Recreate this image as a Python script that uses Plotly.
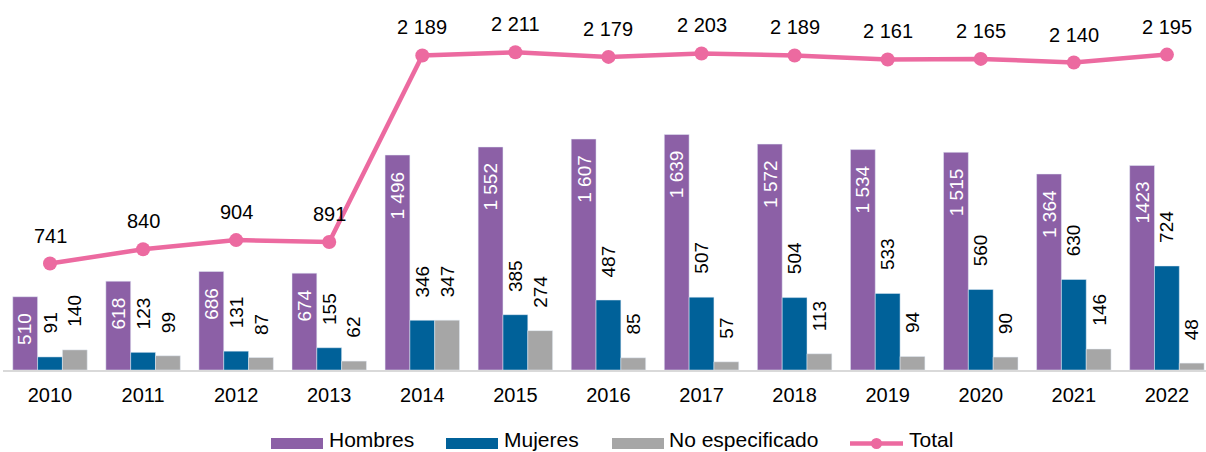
import plotly.graph_objects as go

years = ["2010", "2011", "2012", "2013", "2014", "2015", "2016", "2017", "2018", "2019", "2020", "2021", "2022"]
hombres = [510, 618, 686, 674, 1496, 1552, 1607, 1639, 1572, 1534, 1515, 1364, 1423]
hombres_lbl = ["510", "618", "686", "674", "1 496", "1 552", "1 607", "1 639", "1 572", "1 534", "1 515", "1 364", "1423"]
mujeres = [91, 123, 131, 155, 346, 385, 487, 507, 504, 533, 560, 630, 724]
no_esp = [140, 99, 87, 62, 347, 274, 85, 57, 113, 94, 90, 146, 48]
total = [741, 840, 904, 891, 2189, 2211, 2179, 2203, 2189, 2161, 2165, 2140, 2195]
total_lbl = ["741", "840", "904", "891", "2 189", "2 211", "2 179", "2 203", "2 189", "2 161", "2 165", "2 140", "2 195"]
series_names = ["Hombres", "Mujeres", "No especificado", "Total"]

FONT = "Liberation Sans, Arial, sans-serif"
C_H, C_M, C_N, C_T = "#8C60A6", "#006199", "#A6A6A6", "#EC6AA0"
xi = list(range(len(years)))
BARGAP = 0.2
BW = (1 - BARGAP) / 3  # width of one bar in category units

W, H = 1206, 452
ML, MR, MT, MB = 3, 0, 0, 82
PW, PH = W - ML - MR, H - MT - MB


def px2x(px):
    return (px - ML) / PW


def py2y(py):
    return (MT + PH - py) / PH


fig = go.Figure()
fig.add_trace(go.Bar(x=xi, y=hombres, name=series_names[0], marker_color=C_H))
fig.add_trace(go.Bar(x=xi, y=mujeres, name=series_names[1], marker_color=C_M))
fig.add_trace(go.Bar(x=xi, y=no_esp, name=series_names[2], marker_color=C_N))
fig.add_trace(go.Scatter(
    x=xi, y=total, name=series_names[3], mode="lines+markers",
    line=dict(color=C_T, width=4.5), marker=dict(color=C_T, size=14),
    cliponaxis=False,
))

ann = []
for i in xi:
    ann.append(dict(x=i - BW, y=hombres[i], text=hombres_lbl[i], textangle=-90,
                    xanchor="center", yanchor="top", yshift=-14, showarrow=False,
                    font=dict(color="white", size=19, family=FONT)))
    ann.append(dict(x=i, y=mujeres[i], text=str(mujeres[i]), textangle=-90,
                    xanchor="center", yanchor="bottom", yshift=21, showarrow=False,
                    font=dict(color="black", size=19, family=FONT)))
    ann.append(dict(x=i + BW, y=no_esp[i], text=str(no_esp[i]), textangle=-90,
                    xanchor="center", yanchor="bottom", yshift=21, showarrow=False,
                    font=dict(color="black", size=19, family=FONT)))
    ann.append(dict(x=i, y=total[i], text=total_lbl[i],
                    xanchor="center", yanchor="middle", yshift=28, showarrow=False,
                    font=dict(color="black", size=20, family=FONT)))

# custom legend (wide swatches like the original)
shapes = []
LEG_Y = 443.5
swatch_x = [271, 446, 612]
for sx, col in zip(swatch_x, [C_H, C_M, C_N]):
    shapes.append(dict(type="rect", xref="paper", yref="paper",
                       x0=px2x(sx), x1=px2x(sx + 52), y0=py2y(LEG_Y + 5.5), y1=py2y(LEG_Y - 5.5),
                       fillcolor=col, line=dict(width=0)))
shapes.append(dict(type="line", xref="paper", yref="paper",
                   x0=px2x(850), x1=px2x(903), y0=py2y(LEG_Y), y1=py2y(LEG_Y),
                   line=dict(color=C_T, width=4.5)))
shapes.append(dict(type="circle", xref="paper", yref="paper",
                   x0=px2x(871), x1=px2x(882), y0=py2y(LEG_Y + 5.5), y1=py2y(LEG_Y - 5.5),
                   fillcolor=C_T, line=dict(width=0)))
text_x = [328, 503, 668, 908]
for tx, nm in zip(text_x, series_names):
    ann.append(dict(x=px2x(tx), y=py2y(439.5), xref="paper", yref="paper", text=nm,
                    xanchor="left", yanchor="middle", showarrow=False, borderpad=0,
                    font=dict(color="black", size=21, family=FONT)))

fig.update_layout(
    width=W, height=H,
    margin=dict(l=ML, r=MR, t=MT, b=MB),
    plot_bgcolor="white", paper_bgcolor="white",
    barmode="group", bargap=BARGAP, bargroupgap=0,
    font=dict(family=FONT, size=17, color="black"),
    showlegend=False,
    annotations=ann,
    shapes=shapes,
)
fig.update_xaxes(
    tickmode="array", tickvals=xi, ticktext=years, range=[-0.505, 12.42],
    showline=True, linecolor="#D9D9D9", linewidth=2, showgrid=False,
    ticks="", tickfont=dict(size=20, family=FONT, color="black"),
    ticklabelstandoff=6,
    zeroline=False, automargin=False,
)
fig.update_yaxes(range=[0, 2575], visible=False, showgrid=False, zeroline=False, automargin=False)

fig.write_html("out.html", config={"displayModeBar": False},
               post_script="document.body.style.margin='0';document.body.style.overflow='hidden';")
